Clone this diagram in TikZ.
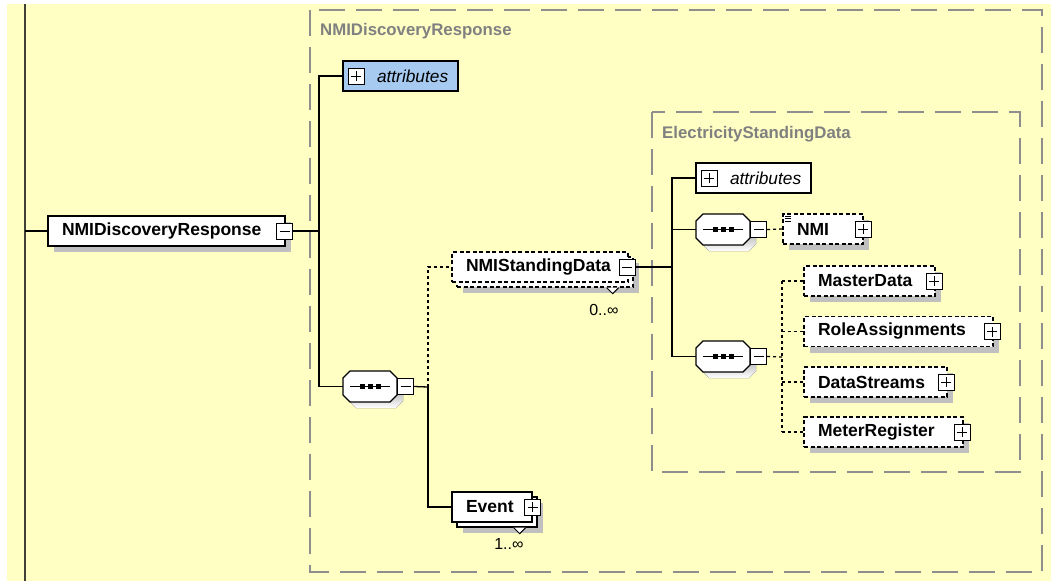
\documentclass[tikz,border=0pt]{standalone}
\usepackage{fontspec}
\setmainfont{Liberation Sans}
\usetikzlibrary{positioning,shadows}

\definecolor{paper}{HTML}{FFFFC4}
\definecolor{shade}{HTML}{C0C0C0}
\definecolor{attrblue}{HTML}{A6CAF0}
\definecolor{groupgray}{HTML}{8E8E8E}
\definecolor{titlegray}{HTML}{808080}
\definecolor{spinecol}{HTML}{404038}

\tikzset{
  elem/.style={draw, line width=1.3pt, fill=white, minimum height=30pt, inner sep=0pt,
    align=left, font=\fontsize{17.5}{20}\selectfont\bfseries},
  shadowed/.style={general shadow={fill=shade, shadow xshift=6pt, shadow yshift=-6pt}},
  stacked/.style={general shadow={fill=shade, shadow xshift=11pt, shadow yshift=-11pt},
    general shadow={fill=white, draw=black, shadow xshift=5pt, shadow yshift=-5pt}},
  optional/.style={dash pattern=on 4pt off 2.5pt},
  attrbox/.style={draw, line width=1.3pt, minimum width=115pt, minimum height=30pt, inner sep=0pt,
    text width=47pt, align=left, font=\fontsize{17.3}{20}\selectfont\itshape},
  seqbox/.style={minimum width=54pt, minimum height=31pt, inner sep=0pt},
  pm/.style={draw, line width=1pt, fill=white, minimum size=16pt, inner sep=0pt},
  minus/.style={pm, path picture={
      \draw[line width=1pt] ([xshift=3pt]path picture bounding box.west) -- ([xshift=-3pt]path picture bounding box.east);}},
  plus/.style={pm, path picture={
      \draw[line width=1pt] ([xshift=3pt]path picture bounding box.west) -- ([xshift=-3pt]path picture bounding box.east)
        ([yshift=-3pt]path picture bounding box.north) -- ([yshift=3pt]path picture bounding box.south);}},
  link/.style={line width=1.3pt},
  optlink/.style={link, dash pattern=on 3pt off 3pt},
  group/.style={draw=groupgray, line width=2pt, dash pattern=on 26pt off 11pt},
  grouptitle/.style={anchor=west, inner sep=0pt, text=titlegray, font=\fontsize{16.8}{20}\selectfont\bfseries},
  mult/.style={anchor=north east, inner sep=0pt, font=\fontsize{16}{18}\selectfont},
  spine/.style={draw=spinecol, line width=2pt},
}

% sequence compositor: octagon with shadow, line and three dots
\newcommand{\seqnode}[2]{%
  \node[seqbox] (#1) at (#2) {};
  \begin{scope}[shift={(#1.center)}]
    \fill[shade] (-14,-9.5) -- (26,-9.5) -- (33,-2.5) -- (33,14.5) -- (26,21.5)
      -- (-14,21.5) -- (-21,14.5) -- (-21,-2.5) -- cycle;
    \filldraw[fill=white, line width=1.3pt] (-20,-15.5) -- (20,-15.5) -- (27,-8.5) -- (27,8.5)
      -- (20,15.5) -- (-20,15.5) -- (-27,8.5) -- (-27,-8.5) -- cycle;
    \draw[line width=1pt] (-20,0) -- (20,0);
    \foreach \dx in {-8,0,8}
      \fill (\dx-2.5,-2.5) rectangle (\dx+2.5,2.5);
  \end{scope}}

\begin{document}
\begin{tikzpicture}[x=1pt,y=-1pt]
\useasboundingbox (0,0) rectangle (1051,581);
\fill[white] (0,0) rectangle (1051,581);
\fill[paper] (7,4) rectangle (1051,581);

% left spine
\coordinate (spinetop) at (25,4);
\coordinate (spinebot) at (25,581);
\draw[spine] (spinetop) -- (spinebot);

% type groups
\draw[group] (310,10) rectangle (1042,572);
\node[grouptitle] (g1title) at (320,31) {NMIDiscoveryResponse};
\draw[group] (652,112) rectangle (1020,472);
\node[grouptitle] (g2title) at (662,134) {ElectricityStandingData};

% root element
\coordinate (rootjoin) at (25,231);
\node[elem, shadowed, minimum width=237pt, text width=209pt] (root) at (166.5,231) {NMIDiscoveryResponse};
\node[minus] (rootpm) at ([xshift=-1pt]root.east) {};
\coordinate (j1) at (319,231);
\draw[link] (rootjoin) -- (root.west);
\draw[link] (rootpm.east) -- (j1);

% first level
\node[attrbox, fill=attrblue] (attr1) at (400.5,76) {attributes};
\node[plus] (attr1pm) at ([xshift=14pt]attr1.west) {};
\seqnode{seq1}{370,386.5}
\node[minus, right=0pt of seq1] (seq1pm) {};
\draw[link] (attr1.west) -| (j1) |- (seq1.west);

% sequence children
\coordinate (j2) at (428,387);
\node[elem, optional, stacked, minimum width=176pt, text width=148pt] (nsd) at (540,267) {NMIStandingData};
\node[minus] (nsdpm) at ([xshift=-1.5pt]nsd.east) {};
\filldraw[line width=1pt, fill=white] ([xshift=-22pt,yshift=-5pt]nsd.south east) -- ++(6,6) -- ++(6,-6);
\node[mult] (nsdmult) at ([xshift=-10pt,yshift=-21pt]nsd.south east) {0..∞};
\node[elem, stacked, minimum width=80pt, text width=52pt] (event) at (492,507) {Event};
\node[plus] (eventpm) at (event.east) {};
\filldraw[line width=1pt, fill=white] ([xshift=-19pt,yshift=-5pt]event.south east) -- ++(6,6) -- ++(6,-6);
\node[mult] (eventmult) at ([xshift=-9pt,yshift=-16pt]event.south east) {1..∞};
\draw[link] (seq1pm.east) -- (j2);
\draw[optlink] (j2) |- (nsd.west);
\draw[link] (j2) |- (event.west);

% ElectricityStandingData content
\coordinate (j3) at (672,267);
\node[attrbox, fill=white] (attr2) at (753.5,178) {attributes};
\node[plus] (attr2pm) at ([xshift=14pt]attr2.west) {};
\seqnode{seq2}{723,229.5}
\node[minus, right=0pt of seq2] (seq2pm) {};
\seqnode{seq3}{723,356.5}
\node[minus, right=0pt of seq3] (seq3pm) {};
\draw[link] (nsdpm.east) -- (j3);
\draw[link] (attr2.west) -| (j3) |- (seq3.west);
\draw[link] (seq2.west) -- (seq2.west -| j3);

\node[elem, optional, shadowed, minimum width=80pt, text width=52pt] (nmi) at (823,229) {NMI};
\node[plus] (nmipm) at ([xshift=-0.5pt]nmi.east) {};
\foreach \dy in {3,5.5,8}
  \draw[line width=0.8pt] ([xshift=3pt,yshift=-\dy pt]nmi.north west) -- ++(6,0);
\draw[optlink] (seq2pm.east) -- (nmi.west);

\node[elem, optional, shadowed, minimum width=131pt, text width=103pt] (master) at (869.5,281) {MasterData};
\node[elem, optional, shadowed, minimum width=189pt, text width=161pt] (role) at (898.5,331.5) {RoleAssignments};
\node[elem, optional, shadowed, minimum width=143pt, text width=115pt] (streams) at (875.5,382) {DataStreams};
\node[elem, optional, shadowed, minimum width=159pt, text width=131pt] (meter) at (883.5,432) {MeterRegister};
\foreach \n in {master,role,streams,meter}
  \node[plus] (\n pm) at ([xshift=-1.5pt]\n.east) {};

\coordinate (j4) at (782,357);
\draw[optlink] (seq3pm.east) -- (j4);
\draw[optlink] (master.west -| j4) -- (meter.west -| j4);
\foreach \n in {master,role,streams,meter}
  \draw[optlink] (\n.west -| j4) -- (\n.west);
\end{tikzpicture}
\end{document}
